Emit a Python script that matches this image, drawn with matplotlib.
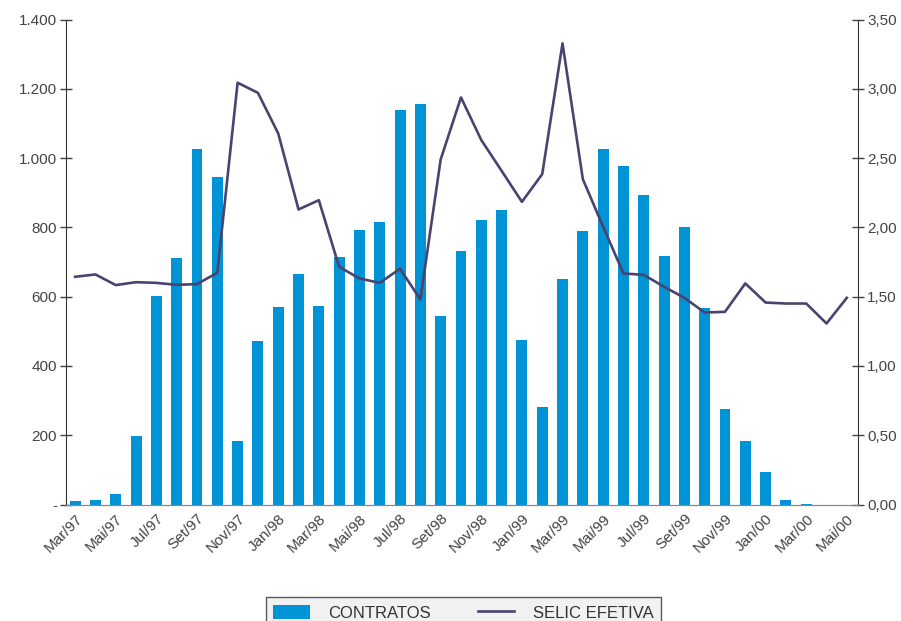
import numpy as np
import matplotlib.pyplot as plt

plt.rcParams['font.family'] = ['Liberation Sans', 'DejaVu Sans']

meses = ['Mar/97', 'Abr/97', 'Mai/97', 'Jun/97', 'Jul/97', 'Ago/97', 'Set/97', 'Out/97', 'Nov/97', 'Dez/97',
         'Jan/98', 'Fev/98', 'Mar/98', 'Abr/98', 'Mai/98', 'Jun/98', 'Jul/98', 'Ago/98', 'Set/98', 'Out/98',
         'Nov/98', 'Dez/98', 'Jan/99', 'Fev/99', 'Mar/99', 'Abr/99', 'Mai/99', 'Jun/99', 'Jul/99', 'Ago/99',
         'Set/99', 'Out/99', 'Nov/99', 'Dez/99', 'Jan/00', 'Fev/00', 'Mar/00', 'Abr/00', 'Mai/00']
contratos = [10, 13, 30, 197, 601, 711, 1026, 945, 183, 472,
             570, 665, 573, 714, 792, 815, 1139, 1156, 544, 731,
             821, 850, 474, 281, 651, 789, 1026, 977, 893, 717,
             801, 567, 275, 183, 93, 13, 1, 0, 0]
selic = [1.644, 1.661, 1.584, 1.605, 1.600, 1.586, 1.591, 1.673, 3.045, 2.972,
         2.679, 2.130, 2.197, 1.716, 1.632, 1.600, 1.702, 1.480, 2.491, 2.939,
         2.631, 2.409, 2.185, 2.385, 3.329, 2.349, 2.005, 1.668, 1.658, 1.572,
         1.492, 1.386, 1.391, 1.596, 1.458, 1.451, 1.451, 1.307, 1.492]

azul = '#0093d6'
roxo = '#4a4370'
cinza = '#444444'

fig = plt.figure(figsize=(9.01, 6.21), dpi=100)
ax = fig.add_axes([66/901, 1-504.5/621, (858-66)/901, (504.5-19.7)/621])
x = np.arange(len(meses))
ax.bar(x, contratos, width=0.54, color=azul, label='CONTRATOS', zorder=2)
ax.set_xlim(-0.45, len(meses) - 0.45)
ax.set_ylim(0, 1400)

ax2 = ax.twinx()
ax2.plot(x, selic, color=roxo, lw=1.9, label='SELIC EFETIVA', zorder=3)
ax2.set_ylim(0, 3.5)

ax.set_yticks(np.arange(0, 1401, 200))
ax.set_yticklabels(['-'] + [f'{v:,}'.replace(',', '.') for v in range(200, 1401, 200)])
ax2.set_yticks(np.arange(0, 3.51, 0.5))
ax2.set_yticklabels([f'{v:.2f}'.replace('.', ',') for v in np.arange(0, 3.51, 0.5)])

ax.set_xticks(x[::2])
ax.set_xticklabels(meses[::2], rotation=45, ha='right', rotation_mode='anchor')
ax.tick_params(axis='x', length=0, pad=5, labelsize=11, colors=cinza)
ax.tick_params(axis='y', direction='inout', length=9, width=1, labelsize=11, colors=cinza, pad=2)
ax2.tick_params(axis='y', direction='inout', length=9, width=1, labelsize=11, colors=cinza, pad=2)

for a in (ax, ax2):
    a.spines['top'].set_visible(False)
    a.spines['left'].set_color('#333333')
    a.spines['right'].set_color('#333333')
    a.spines['bottom'].set_color('#888888')
ax2.spines['left'].set_visible(False)
ax.spines['right'].set_visible(False)

h1, l1 = ax.get_legend_handles_labels()
h2, l2 = ax2.get_legend_handles_labels()
leg = fig.legend(h1 + h2, l1 + l2, loc='upper center', bbox_to_anchor=(463.5/901, 1-597/621),
                 ncol=2, frameon=True, fancybox=False, fontsize=12, handlelength=2.2,
                 handleheight=1.0, columnspacing=2.8, borderpad=0.45, borderaxespad=0,
                 handletextpad=1.1, labelcolor='#333333')
leg.get_frame().set_facecolor('#eeeeee')
leg.get_frame().set_edgecolor('#333333')
leg.get_frame().set_linewidth(1)

fig.savefig('out.png', dpi=100)
